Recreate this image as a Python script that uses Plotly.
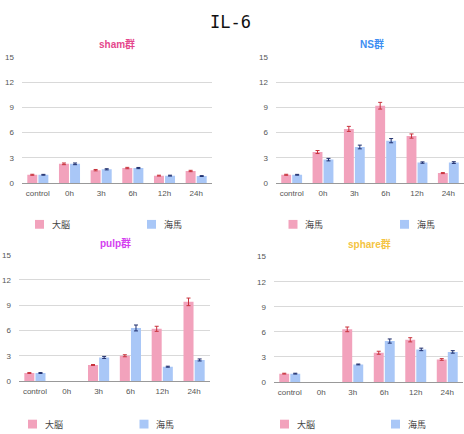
import plotly.graph_objects as go

W, H = 464, 434

categories = ["control", "0h", "3h", "6h", "12h", "24h"]

# sham群
sham_pink = [1.0, 2.3, 1.55, 1.8, 0.9, 1.45]
sham_pink_err = [0.06, 0.1, 0.08, 0.08, 0.05, 0.08]
sham_blue = [1.0, 2.3, 1.65, 1.8, 0.9, 0.85]
sham_blue_err = [0.05, 0.1, 0.07, 0.07, 0.05, 0.05]

# NS群
ns_pink = [1.0, 3.7, 6.45, 9.2, 5.6, 1.2]
ns_pink_err = [0.06, 0.18, 0.3, 0.4, 0.25, 0.06]
ns_blue = [1.0, 2.8, 4.3, 5.05, 2.45, 2.45]
ns_blue_err = [0.05, 0.15, 0.22, 0.25, 0.08, 0.1]

# pulp群
pulp_pink = [0.95, None, 1.9, 3.0, 6.2, 9.4]
pulp_pink_err = [0.05, None, 0.06, 0.12, 0.3, 0.45]
pulp_blue = [0.95, None, 2.8, 6.3, 1.7, 2.5]
pulp_blue_err = [0.05, None, 0.12, 0.35, 0.06, 0.12]

# sphare群
sph_pink = [1.0, None, 6.3, 3.5, 5.05, 2.7]
sph_pink_err = [0.05, None, 0.28, 0.18, 0.25, 0.1]
sph_blue = [1.0, None, 2.1, 4.9, 3.9, 3.6]
sph_blue_err = [0.05, None, 0.05, 0.25, 0.15, 0.15]

y_ticks = [0, 3, 6, 9, 12, 15]

panel_titles = ["sham群", "NS群", "pulp群", "sphare群"]
title_colors = ["#E5478C", "#3D8EF2", "#D43EF0", "#F4C443"]
legend_names = [("大脳", "海馬"), ("海馬", "海馬"), ("大脳", "海馬"), ("大脳", "海馬")]

PINK = "#F2A2BC"
BLUE = "#A9C7F7"
PINK_ERR = "#C8323C"
BLUE_ERR = "#1F2F6E"

panels = [
    (sham_pink, sham_pink_err, sham_blue, sham_blue_err),
    (ns_pink, ns_pink_err, ns_blue, ns_blue_err),
    (pulp_pink, pulp_pink_err, pulp_blue, pulp_blue_err),
    (sph_pink, sph_pink_err, sph_blue, sph_blue_err),
]

# pixel boxes: (x0, x1, ytop, ybottom)
boxes = [
    (22, 212, 54, 183),
    (276, 464, 54, 183),
    (19, 210, 256, 385),
    (274, 463, 258, 386),
]
# legend: (pink square center x, blue square center x, y center)
legend_pos = [(39.5, 151.5, 225), (293, 404.5, 225), (32.5, 144, 429), (284.5, 395.5, 429)]
title_pos = [(117, 41), (372, 41), (115, 244), (369, 245)]

def dx(a, b):
    return [a / W, b / W]

def dy(top, bottom):
    return [1 - bottom / H, 1 - top / H]

fig = go.Figure()
layout = dict(
    width=W, height=H,
    margin=dict(l=0, r=0, t=0, b=0),
    paper_bgcolor="white", plot_bgcolor="white",
    barmode="group", bargap=0.3, bargroupgap=0.1,
    showlegend=False,
    font=dict(family="Liberation Sans, Noto Sans CJK JP", size=8, color="#555555"),
    annotations=[], shapes=[],
)

for i, (pa, pe, ba, be) in enumerate(panels):
    k = "" if i == 0 else str(i + 1)
    fig.add_trace(go.Bar(
        x=categories, y=pa, name=legend_names[i][0],
        marker=dict(color=PINK, line=dict(width=0)),
        error_y=dict(type="data", array=pe, color=PINK_ERR, thickness=1, width=2),
        xaxis="x" + k, yaxis="y" + k,
    ))
    fig.add_trace(go.Bar(
        x=categories, y=ba, name=legend_names[i][1],
        marker=dict(color=BLUE, line=dict(width=0)),
        error_y=dict(type="data", array=be, color=BLUE_ERR, thickness=1, width=2),
        xaxis="x" + k, yaxis="y" + k,
    ))
    x0, x1, yt, yb = boxes[i]
    layout["xaxis" + k] = dict(
        domain=dx(x0, x1), anchor="y" + k, showgrid=False,
        showline=True, linecolor="#999999", linewidth=1, ticks="",
        tickfont=dict(size=8, color="#555555"), fixedrange=True,
        ticklabelstandoff=2,
    )
    layout["yaxis" + k] = dict(
        domain=dy(yt, yb), anchor="x" + k, range=[0, 15], tickvals=y_ticks,
        showgrid=True, gridcolor="#D9D9D9", gridwidth=1, zeroline=False,
        showline=False, ticks="", tickfont=dict(size=8, color="#555555"),
        fixedrange=True, ticklabelstandoff=7,
    )
    # legend (square + label) for this panel
    px, bx, ly = legend_pos[i]
    for cx, col, name in ((px, PINK, legend_names[i][0]), (bx, BLUE, legend_names[i][1])):
        layout["shapes"].append(dict(
            type="rect", xref="paper", yref="paper",
            x0=(cx - 4.5) / W, x1=(cx + 4.5) / W,
            y0=1 - (ly + 4.5) / H, y1=1 - (ly - 4.5) / H,
            fillcolor=col, line=dict(width=0),
        ))
        layout["annotations"].append(dict(
            text=name, x=(cx + 10) / W, y=1 - ly / H, xref="paper", yref="paper",
            showarrow=False, xanchor="left", yanchor="middle",
            font=dict(size=9, color="#444444", family="Noto Sans CJK JP"),
        ))
    tx, ty = title_pos[i]
    layout["annotations"].append(dict(
        text="<b>" + panel_titles[i] + "</b>", x=tx / W, y=1 - ty / H,
        xref="paper", yref="paper", showarrow=False, xanchor="center", yanchor="middle",
        font=dict(size=10, color=title_colors[i], family="Liberation Sans, Noto Sans CJK JP"),
    ))

layout["annotations"].append(dict(
    text="IL-6", x=230 / W, y=1 - 18 / H, xref="paper", yref="paper",
    showarrow=False, xanchor="center", yanchor="middle",
    font=dict(size=17, color="#111111", family="DejaVu Sans Mono"),
))

fig.update_layout(**layout)
fig.write_html(
    "out.html",
    config={"displayModeBar": False},
    post_script="document.body.style.margin='0';document.body.style.padding='0';",
)
